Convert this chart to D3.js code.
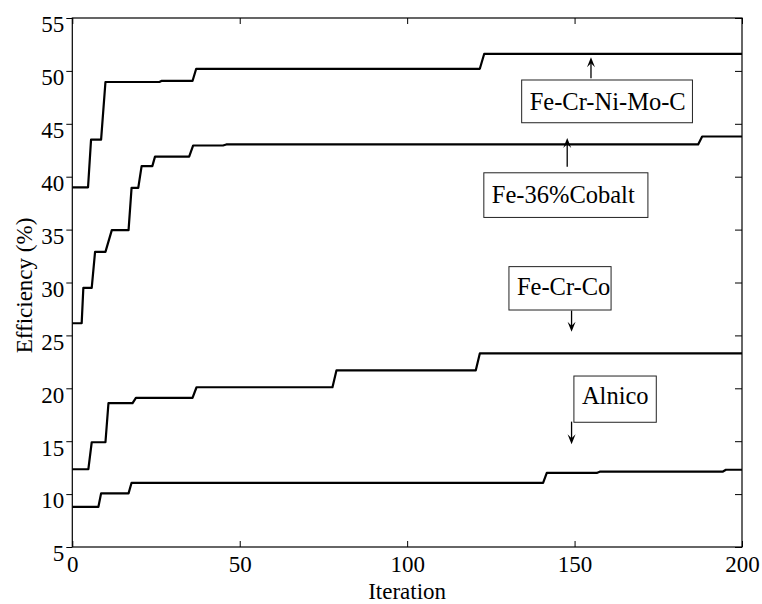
<!DOCTYPE html>
<html>
<head>
<meta charset="utf-8">
<script src="https://cdn.jsdelivr.net/npm/d3@7"></script>
<style>
  html, body { margin: 0; padding: 0; background: #fff; }
  svg { display: block; }
  svg text { font-family: "Liberation Serif", "Times New Roman", serif !important; fill: #000; }
</style>
</head>
<body>
<svg id="chart" width="762" height="604"></svg>
<script>
// Best efficiency found so far at each iteration, stored as step vertices.
const ferCrNiMoCIter = [0, 4.7, 5.6, 8.6, 9.9, 26, 26.6, 35.9, 37, 121.7, 123, 200];
const ferCrNiMoCVal  = [39, 39, 43.5, 43.5, 48.95, 48.95, 49.05, 49.05, 50.2, 50.2, 51.6, 51.6];

const fe36CobaltIter = [0, 2.8, 3.3, 5.8, 6.8, 9.9, 11.8, 16.8, 17.7, 19.7, 20.7, 23.9, 24.7, 34.9, 36.1, 45, 46, 186.9, 188.1, 200];
const fe36CobaltVal  = [26.15, 26.15, 29.5, 29.5, 32.9, 32.9, 34.95, 34.95, 38.95, 38.95, 41.0, 41.0, 41.9, 41.9, 42.95, 42.95, 43.05, 43.05, 43.8, 43.8];

const feCrCoIter = [0, 4.8, 5.8, 9.9, 10.8, 18, 19, 35.9, 37.1, 77.7, 78.9, 120.5, 121.7, 200];
const feCrCoVal  = [12.35, 12.35, 14.9, 14.9, 18.6, 18.6, 19.1, 19.1, 20.1, 20.1, 21.7, 21.7, 23.3, 23.3];

const alnicoIter = [0, 7.8, 8.6, 16.8, 17.7, 140.6, 141.7, 156.6, 157.5, 194.2, 195.2, 200];
const alnicoVal  = [8.8, 8.8, 10.07, 10.07, 11.07, 11.07, 12.0, 12.0, 12.12, 12.12, 12.3, 12.3];

const seriesNames = ["Fe-Cr-Ni-Mo-C", "Fe-36%Cobalt", "Fe-Cr-Co", "Alnico"];
const seriesIters = [ferCrNiMoCIter, fe36CobaltIter, feCrCoIter, alnicoIter];
const seriesVals  = [ferCrNiMoCVal, fe36CobaltVal, feCrCoVal, alnicoVal];

const xTicks = [0, 50, 100, 150, 200];
const yTicks = [5, 10, 15, 20, 25, 30, 35, 40, 45, 50, 55];

// Callout anchors in data units: arrow x, arrow tip/tail, box corners, text baseline.
const calloutArrowX = [154.9, 147.8, 149.1, 149.1];
const calloutTip    = [51.3, 43.65, 25.35, 14.7];
const calloutTail   = [49.3, 40.95, 27.35, 16.85];
const calloutBoxX0  = [134.2, 122.9, 130.4, 149.8];
const calloutBoxX1  = [185.2, 171.9, 160.9, 174.4];
const calloutBoxTop = [49.14, 40.37, 31.5, 21.16];
const calloutBoxBot = [45.1, 36.15, 27.4, 16.79];
const calloutBase   = [46.3, 37.53, 28.8, 18.5];

const FONT = '"Liberation Serif", "Times New Roman", serif';

const svg = d3.select("#chart");
const plotLeft = 72.3, plotRight = 742, plotTop = 18, plotBottom = 547;

const x = d3.scaleLinear().domain([0, 200]).range([plotLeft, plotRight]);
const y = d3.scaleLinear().domain([5, 55]).range([plotBottom, plotTop]);

const g = svg.append("g");

// Frame
g.append("rect")
  .attr("x", plotLeft).attr("y", plotTop)
  .attr("width", plotRight - plotLeft).attr("height", plotBottom - plotTop)
  .attr("fill", "none").attr("stroke", "#000").attr("stroke-width", 1.2);

// Bottom axis (ticks inside) and top ticks
const xAxisB = d3.axisBottom(x).tickValues(xTicks).tickSize(-6).tickPadding(9).tickFormat(d3.format("d"));
const gxb = g.append("g").attr("transform", `translate(0,${plotBottom})`).call(xAxisB);
gxb.attr("font-family", FONT);
gxb.select(".domain").remove();
gxb.selectAll(".tick line").attr("stroke", "#000").attr("stroke-width", 1);
gxb.selectAll(".tick text").style("font-family", FONT).style("font-size", "23px").attr("fill", "#000");

const xAxisT = d3.axisTop(x).tickValues(xTicks).tickSize(-6).tickFormat("");
const gxt = g.append("g").attr("transform", `translate(0,${plotTop})`).call(xAxisT);
gxt.select(".domain").remove();
gxt.selectAll(".tick line").attr("stroke", "#000").attr("stroke-width", 1);

// Left axis (ticks outward) and right ticks inside
const yAxisL = d3.axisLeft(y).tickValues(yTicks).tickSize(6).tickPadding(2).tickFormat(d3.format("d"));
const gyl = g.append("g").attr("transform", `translate(${plotLeft},0)`).call(yAxisL);
gyl.attr("font-family", FONT);
gyl.select(".domain").remove();
gyl.selectAll(".tick line").attr("stroke", "#000").attr("stroke-width", 1);
gyl.selectAll(".tick text").style("font-family", FONT).style("font-size", "23px").attr("fill", "#000")
  .attr("dy", "0.6em");

const yAxisR = d3.axisRight(y).tickValues(yTicks).tickSize(-7).tickFormat("");
const gyr = g.append("g").attr("transform", `translate(${plotRight},0)`).call(yAxisR);
gyr.select(".domain").remove();
gyr.selectAll(".tick line").attr("stroke", "#000").attr("stroke-width", 1);

// Axis titles
g.append("text")
  .attr("x", (plotLeft + plotRight) / 2).attr("y", 599)
  .attr("text-anchor", "middle").style("font-size", "23px")
  .text("Iteration");

g.append("text")
  .attr("transform", `translate(32,${(plotTop + plotBottom) / 2 + 3}) rotate(-90)`)
  .attr("text-anchor", "middle").style("font-size", "23px")
  .text("Efficiency (%)");

// Convergence curves
const line = d3.line().x(d => x(d[0])).y(d => y(d[1]));
seriesNames.forEach((name, i) => {
  const pts = seriesIters[i].map((it, k) => [it, seriesVals[i][k]]);
  g.append("path")
    .datum(pts)
    .attr("d", line)
    .attr("fill", "none")
    .attr("stroke", "#000")
    .attr("stroke-width", 2.2)
    .attr("stroke-linejoin", "round");
});

// Callouts: labelled boxes with arrows pointing at their curve
seriesNames.forEach((name, i) => {
  const ax = x(calloutArrowX[i]);
  const tipY = y(calloutTip[i]);
  const tailY = y(calloutTail[i]);
  const dir = tailY > tipY ? 1 : -1; // 1 = arrow points up
  g.append("line")
    .attr("x1", ax).attr("x2", ax)
    .attr("y1", tailY).attr("y2", tipY + dir * 4)
    .attr("stroke", "#000").attr("stroke-width", 1.3);
  g.append("path")
    .attr("d", `M${ax},${tipY} L${ax - 4},${tipY + dir * 10} L${ax},${tipY + dir * 6} L${ax + 4},${tipY + dir * 10} Z`)
    .attr("fill", "#000");

  const bx0 = x(calloutBoxX0[i]), bx1 = x(calloutBoxX1[i]);
  const by0 = y(calloutBoxTop[i]), by1 = y(calloutBoxBot[i]);
  g.append("rect")
    .attr("x", bx0).attr("y", by0)
    .attr("width", bx1 - bx0).attr("height", by1 - by0)
    .attr("fill", "#fff").attr("stroke", "#222").attr("stroke-width", 1);
  g.append("text")
    .attr("x", bx0 + 8).attr("y", y(calloutBase[i]))
    .style("font-size", "24.5px")
    .text(name);
});
</script>
</body>
</html>
